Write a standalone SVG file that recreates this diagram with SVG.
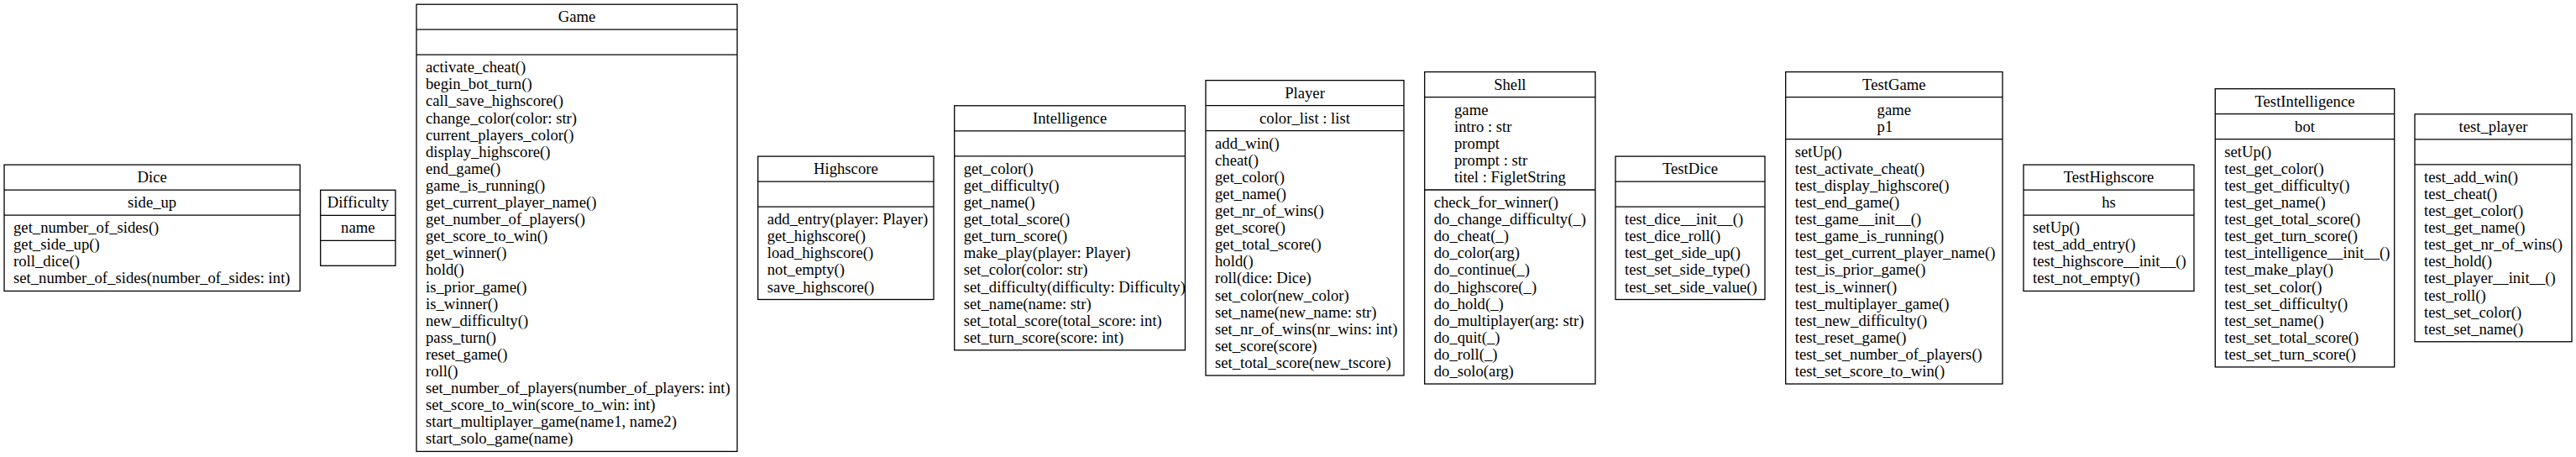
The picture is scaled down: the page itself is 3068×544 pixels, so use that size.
<svg xmlns="http://www.w3.org/2000/svg" width="3068" height="544" viewBox="0 0 3068 544">
<style>
.bg{fill:#fff}
.box{fill:#fff;stroke:#000;stroke-width:1.3}
.sep{stroke:#000;stroke-width:1.3}
.t{font-family:"Liberation Serif","Times New Roman",serif;font-size:18.7px;fill:#000}
.c{text-anchor:middle}
</style>
<rect class="bg" x="0" y="0" width="3068" height="544"/>
<g id="connectors"></g>

<g id="Dice">
<rect class="box" x="5" y="196.15" width="352.3" height="150.3"/>
<line class="sep" x1="5" y1="226.15" x2="357.3" y2="226.15"/>
<line class="sep" x1="5" y1="256.15" x2="357.3" y2="256.15"/>
<text class="t c" x="181.15" y="217.15">Dice</text>
<text class="t c" x="181.15" y="247.15">side_up</text>
<text class="t" x="16" y="277.15"><tspan x="16">get_number_of_sides()</tspan><tspan x="16" dy="20.1">get_side_up()</tspan><tspan x="16" dy="20.1">roll_dice()</tspan><tspan x="16" dy="20.1">set_number_of_sides(number_of_sides: int)</tspan></text>
</g>

<g id="Difficulty">
<rect class="box" x="381.7" y="226.3" width="89.3" height="90"/>
<line class="sep" x1="381.7" y1="256.3" x2="471" y2="256.3"/>
<line class="sep" x1="381.7" y1="286.3" x2="471" y2="286.3"/>
<text class="t c" x="426.35" y="247.3">Difficulty</text>
<text class="t c" x="426.35" y="277.3">name</text>
</g>

<g id="Game">
<rect class="box" x="496" y="5.2" width="382" height="532.2"/>
<line class="sep" x1="496" y1="35.2" x2="878" y2="35.2"/>
<line class="sep" x1="496" y1="65.2" x2="878" y2="65.2"/>
<text class="t c" x="687" y="26.2">Game</text>
<text class="t" x="507" y="86.2"><tspan x="507">activate_cheat()</tspan><tspan x="507" dy="20.1">begin_bot_turn()</tspan><tspan x="507" dy="20.1">call_save_highscore()</tspan><tspan x="507" dy="20.1">change_color(color: str)</tspan><tspan x="507" dy="20.1">current_players_color()</tspan><tspan x="507" dy="20.1">display_highscore()</tspan><tspan x="507" dy="20.1">end_game()</tspan><tspan x="507" dy="20.1">game_is_running()</tspan><tspan x="507" dy="20.1">get_current_player_name()</tspan><tspan x="507" dy="20.1">get_number_of_players()</tspan><tspan x="507" dy="20.1">get_score_to_win()</tspan><tspan x="507" dy="20.1">get_winner()</tspan><tspan x="507" dy="20.1">hold()</tspan><tspan x="507" dy="20.1">is_prior_game()</tspan><tspan x="507" dy="20.1">is_winner()</tspan><tspan x="507" dy="20.1">new_difficulty()</tspan><tspan x="507" dy="20.1">pass_turn()</tspan><tspan x="507" dy="20.1">reset_game()</tspan><tspan x="507" dy="20.1">roll()</tspan><tspan x="507" dy="20.1">set_number_of_players(number_of_players: int)</tspan><tspan x="507" dy="20.1">set_score_to_win(score_to_win: int)</tspan><tspan x="507" dy="20.1">start_multiplayer_game(name1, name2)</tspan><tspan x="507" dy="20.1">start_solo_game(name)</tspan></text>
</g>

<g id="Highscore">
<rect class="box" x="902.7" y="186.1" width="209.3" height="170.4"/>
<line class="sep" x1="902.7" y1="216.1" x2="1112" y2="216.1"/>
<line class="sep" x1="902.7" y1="246.1" x2="1112" y2="246.1"/>
<text class="t c" x="1007.35" y="207.1">Highscore</text>
<text class="t" x="913.7" y="267.1"><tspan x="913.7">add_entry(player: Player)</tspan><tspan x="913.7" dy="20.1">get_highscore()</tspan><tspan x="913.7" dy="20.1">load_highscore()</tspan><tspan x="913.7" dy="20.1">not_empty()</tspan><tspan x="913.7" dy="20.1">save_highscore()</tspan></text>
</g>

<g id="Intelligence">
<rect class="box" x="1136.7" y="125.8" width="274.8" height="291"/>
<line class="sep" x1="1136.7" y1="155.8" x2="1411.5" y2="155.8"/>
<line class="sep" x1="1136.7" y1="185.8" x2="1411.5" y2="185.8"/>
<text class="t c" x="1274.1" y="146.8">Intelligence</text>
<text class="t" x="1147.7" y="206.8"><tspan x="1147.7">get_color()</tspan><tspan x="1147.7" dy="20.1">get_difficulty()</tspan><tspan x="1147.7" dy="20.1">get_name()</tspan><tspan x="1147.7" dy="20.1">get_total_score()</tspan><tspan x="1147.7" dy="20.1">get_turn_score()</tspan><tspan x="1147.7" dy="20.1">make_play(player: Player)</tspan><tspan x="1147.7" dy="20.1">set_color(color: str)</tspan><tspan x="1147.7" dy="20.1">set_difficulty(difficulty: Difficulty)</tspan><tspan x="1147.7" dy="20.1">set_name(name: str)</tspan><tspan x="1147.7" dy="20.1">set_total_score(total_score: int)</tspan><tspan x="1147.7" dy="20.1">set_turn_score(score: int)</tspan></text>
</g>

<g id="Player">
<rect class="box" x="1436" y="95.65" width="236" height="351.3"/>
<line class="sep" x1="1436" y1="125.65" x2="1672" y2="125.65"/>
<line class="sep" x1="1436" y1="155.65" x2="1672" y2="155.65"/>
<text class="t c" x="1554" y="116.65">Player</text>
<text class="t c" x="1554" y="146.65">color_list : list</text>
<text class="t" x="1447" y="176.65"><tspan x="1447">add_win()</tspan><tspan x="1447" dy="20.1">cheat()</tspan><tspan x="1447" dy="20.1">get_color()</tspan><tspan x="1447" dy="20.1">get_name()</tspan><tspan x="1447" dy="20.1">get_nr_of_wins()</tspan><tspan x="1447" dy="20.1">get_score()</tspan><tspan x="1447" dy="20.1">get_total_score()</tspan><tspan x="1447" dy="20.1">hold()</tspan><tspan x="1447" dy="20.1">roll(dice: Dice)</tspan><tspan x="1447" dy="20.1">set_color(new_color)</tspan><tspan x="1447" dy="20.1">set_name(new_name: str)</tspan><tspan x="1447" dy="20.1">set_nr_of_wins(nr_wins: int)</tspan><tspan x="1447" dy="20.1">set_score(score)</tspan><tspan x="1447" dy="20.1">set_total_score(new_tscore)</tspan></text>
</g>

<g id="Shell">
<rect class="box" x="1696.7" y="85.6" width="203.3" height="371.4"/>
<line class="sep" x1="1696.7" y1="115.6" x2="1900" y2="115.6"/>
<line class="sep" x1="1696.7" y1="226" x2="1900" y2="226"/>
<text class="t c" x="1798.35" y="106.6">Shell</text>
<text class="t" x="1732" y="136.6"><tspan x="1732">game</tspan><tspan x="1732" dy="20.1">intro : str</tspan><tspan x="1732" dy="20.1">prompt</tspan><tspan x="1732" dy="20.1">prompt : str</tspan><tspan x="1732" dy="20.1">titel : FigletString</tspan></text>
<text class="t" x="1707.7" y="247"><tspan x="1707.7">check_for_winner()</tspan><tspan x="1707.7" dy="20.1">do_change_difficulty(_)</tspan><tspan x="1707.7" dy="20.1">do_cheat(_)</tspan><tspan x="1707.7" dy="20.1">do_color(arg)</tspan><tspan x="1707.7" dy="20.1">do_continue(_)</tspan><tspan x="1707.7" dy="20.1">do_highscore(_)</tspan><tspan x="1707.7" dy="20.1">do_hold(_)</tspan><tspan x="1707.7" dy="20.1">do_multiplayer(arg: str)</tspan><tspan x="1707.7" dy="20.1">do_quit(_)</tspan><tspan x="1707.7" dy="20.1">do_roll(_)</tspan><tspan x="1707.7" dy="20.1">do_solo(arg)</tspan></text>
</g>

<g id="TestDice">
<rect class="box" x="1924" y="186.1" width="178" height="170.4"/>
<line class="sep" x1="1924" y1="216.1" x2="2102" y2="216.1"/>
<line class="sep" x1="1924" y1="246.1" x2="2102" y2="246.1"/>
<text class="t c" x="2013" y="207.1">TestDice</text>
<text class="t" x="1935" y="267.1"><tspan x="1935">test_dice__init__()</tspan><tspan x="1935" dy="20.1">test_dice_roll()</tspan><tspan x="1935" dy="20.1">test_get_side_up()</tspan><tspan x="1935" dy="20.1">test_set_side_type()</tspan><tspan x="1935" dy="20.1">test_set_side_value()</tspan></text>
</g>

<g id="TestGame">
<rect class="box" x="2126.7" y="85.6" width="258.3" height="371.4"/>
<line class="sep" x1="2126.7" y1="115.6" x2="2385" y2="115.6"/>
<line class="sep" x1="2126.7" y1="165.7" x2="2385" y2="165.7"/>
<text class="t c" x="2255.85" y="106.6">TestGame</text>
<text class="t" x="2235.6" y="136.6"><tspan x="2235.6">game</tspan><tspan x="2235.6" dy="20.1">p1</tspan></text>
<text class="t" x="2137.7" y="186.7"><tspan x="2137.7">setUp()</tspan><tspan x="2137.7" dy="20.1">test_activate_cheat()</tspan><tspan x="2137.7" dy="20.1">test_display_highscore()</tspan><tspan x="2137.7" dy="20.1">test_end_game()</tspan><tspan x="2137.7" dy="20.1">test_game__init__()</tspan><tspan x="2137.7" dy="20.1">test_game_is_running()</tspan><tspan x="2137.7" dy="20.1">test_get_current_player_name()</tspan><tspan x="2137.7" dy="20.1">test_is_prior_game()</tspan><tspan x="2137.7" dy="20.1">test_is_winner()</tspan><tspan x="2137.7" dy="20.1">test_multiplayer_game()</tspan><tspan x="2137.7" dy="20.1">test_new_difficulty()</tspan><tspan x="2137.7" dy="20.1">test_reset_game()</tspan><tspan x="2137.7" dy="20.1">test_set_number_of_players()</tspan><tspan x="2137.7" dy="20.1">test_set_score_to_win()</tspan></text>
</g>

<g id="TestHighscore">
<rect class="box" x="2410" y="196.15" width="203" height="150.3"/>
<line class="sep" x1="2410" y1="226.15" x2="2613" y2="226.15"/>
<line class="sep" x1="2410" y1="256.15" x2="2613" y2="256.15"/>
<text class="t c" x="2511.5" y="217.15">TestHighscore</text>
<text class="t c" x="2511.5" y="247.15">hs</text>
<text class="t" x="2421" y="277.15"><tspan x="2421">setUp()</tspan><tspan x="2421" dy="20.1">test_add_entry()</tspan><tspan x="2421" dy="20.1">test_highscore__init__()</tspan><tspan x="2421" dy="20.1">test_not_empty()</tspan></text>
</g>

<g id="TestIntelligence">
<rect class="box" x="2638.3" y="105.7" width="213.4" height="331.2"/>
<line class="sep" x1="2638.3" y1="135.7" x2="2851.7" y2="135.7"/>
<line class="sep" x1="2638.3" y1="165.7" x2="2851.7" y2="165.7"/>
<text class="t c" x="2745" y="126.7">TestIntelligence</text>
<text class="t c" x="2745" y="156.7">bot</text>
<text class="t" x="2649.3" y="186.7"><tspan x="2649.3">setUp()</tspan><tspan x="2649.3" dy="20.1">test_get_color()</tspan><tspan x="2649.3" dy="20.1">test_get_difficulty()</tspan><tspan x="2649.3" dy="20.1">test_get_name()</tspan><tspan x="2649.3" dy="20.1">test_get_total_score()</tspan><tspan x="2649.3" dy="20.1">test_get_turn_score()</tspan><tspan x="2649.3" dy="20.1">test_intelligence__init__()</tspan><tspan x="2649.3" dy="20.1">test_make_play()</tspan><tspan x="2649.3" dy="20.1">test_set_color()</tspan><tspan x="2649.3" dy="20.1">test_set_difficulty()</tspan><tspan x="2649.3" dy="20.1">test_set_name()</tspan><tspan x="2649.3" dy="20.1">test_set_total_score()</tspan><tspan x="2649.3" dy="20.1">test_set_turn_score()</tspan></text>
</g>

<g id="test_player">
<rect class="box" x="2876" y="135.85" width="187" height="270.9"/>
<line class="sep" x1="2876" y1="165.85" x2="3063" y2="165.85"/>
<line class="sep" x1="2876" y1="195.85" x2="3063" y2="195.85"/>
<text class="t c" x="2969.5" y="156.85">test_player</text>
<text class="t" x="2887" y="216.85"><tspan x="2887">test_add_win()</tspan><tspan x="2887" dy="20.1">test_cheat()</tspan><tspan x="2887" dy="20.1">test_get_color()</tspan><tspan x="2887" dy="20.1">test_get_name()</tspan><tspan x="2887" dy="20.1">test_get_nr_of_wins()</tspan><tspan x="2887" dy="20.1">test_hold()</tspan><tspan x="2887" dy="20.1">test_player__init__()</tspan><tspan x="2887" dy="20.1">test_roll()</tspan><tspan x="2887" dy="20.1">test_set_color()</tspan><tspan x="2887" dy="20.1">test_set_name()</tspan></text>
</g>
</svg>
